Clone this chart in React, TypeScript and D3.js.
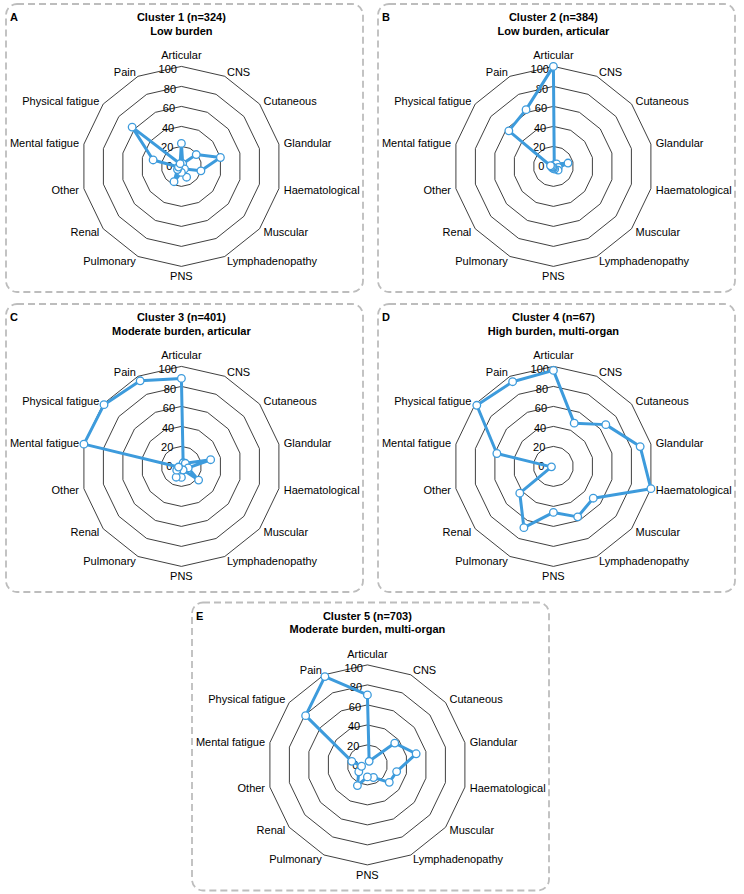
import React from "react";
import * as d3 from "d3";

const categories = [
  "Articular", "CNS", "Cutaneous", "Glandular", "Haematological", "Muscular",
  "Lymphadenopathy", "PNS", "Pulmonary", "Renal", "Other", "Mental fatigue",
  "Physical fatigue", "Pain",
];

const ringTicks = [0, 20, 40, 60, 80, 100];

const panelLetters = ["A", "B", "C", "D", "E"];
const panelTitles = ["Cluster 1 (n=324)", "Cluster 2 (n=384)", "Cluster 3 (n=401)", "Cluster 4 (n=67)", "Cluster 5 (n=703)"];
const panelSubtitles = ["Low burden", "Low burden, articular", "Moderate burden, articular", "High burden, multi-organ", "Moderate burden, multi-organ"];

const cluster1 = [23, 3, 19, 40, 20, 4, 12, 6, 17, 5, 3, 29, 63, 3];
const cluster2 = [100, 2, 4, 15, 5, 6, 3, 2, 2, 1, 2, 3, 57, 63];
const cluster3 = [88, 4, 5, 30, 7, 22, 4, 11, 12, 6, 3, 100, 99, 95];
const cluster4 = [96, 48, 67, 89, 100, 51, 56, 46, 68, 43, 2, 58, 98, 94];
const cluster5 = [70, 4, 35, 50, 30, 28, 14, 12, 23, 11, 6, 16, 79, 98];

const clusterValues = [cluster1, cluster2, cluster3, cluster4, cluster5];

// panel box origins (layout)
const panelOrigins: [number, number][] = [
  [6, 4],
  [378, 4],
  [6, 304],
  [378, 304],
  [192, 602.5],
];

const BOX_W = 357;
const BOX_H = 288;
const CX = 175.4;
const CY = 162.4;
const R = 100;
const LABEL_R = 105;
const BLUE = "#3d9bdc";
const FONT = "'Liberation Sans', Arial, Helvetica, sans-serif";

const n = categories.length;
const angle = d3.scaleLinear().domain([0, n]).range([0, 2 * Math.PI]);
const rScale = d3.scaleLinear().domain([0, 100]).range([0, R]);

function Panel({ idx }: { idx: number }) {
  const [ox, oy] = panelOrigins[idx];
  const values = clusterValues[idx];

  const ringLine = d3
    .lineRadial<number>()
    .angle((_, i) => angle(i))
    .radius((d) => rScale(d))
    .curve(d3.curveLinearClosed);

  const dataLine = d3
    .lineRadial<number>()
    .angle((_, i) => angle(i))
    .radius((d) => rScale(d))
    .curve(d3.curveLinearClosed);

  const pt = (v: number, i: number) => {
    const a = angle(i);
    const r = rScale(v);
    return [r * Math.sin(a), -r * Math.cos(a)];
  };

  return (
    <g transform={`translate(${ox},${oy})`}>
      <rect
        x={0}
        y={0}
        width={BOX_W}
        height={BOX_H}
        rx={11}
        ry={11}
        fill="none"
        stroke="#bdbdbd"
        strokeWidth={1.8}
        strokeDasharray="7 4"
      />
      <text x={CX - 171.5} y={CY - 149} fontFamily={FONT} fontSize={11} fontWeight="bold" dominantBaseline="central" fill="#000">
        {panelLetters[idx]}
      </text>
      <text x={CX} y={CY - 149} fontFamily={FONT} fontSize={11} fontWeight="bold" textAnchor="middle" dominantBaseline="central" fill="#000">
        {panelTitles[idx]}
      </text>
      <text x={CX} y={CY - 135.5} fontFamily={FONT} fontSize={11} fontWeight="bold" textAnchor="middle" dominantBaseline="central" fill="#000">
        {panelSubtitles[idx]}
      </text>
      <g transform={`translate(${CX},${CY})`}>
        {ringTicks.filter((t) => t > 0).map((t) => (
          <path
            key={t}
            d={ringLine(categories.map(() => t)) || ""}
            fill="none"
            stroke="#2a2a2a"
            strokeWidth={0.9}
          />
        ))}
        {ringTicks.map((t) => (
          <text
            key={"t" + t}
            x={-9 + 0.045 * rScale(t)}
            y={-rScale(t) * 0.97}
            fontFamily={FONT}
            fontSize={11}
            textAnchor="end"
            dominantBaseline="central"
            fill="#000"
          >
            {t}
          </text>
        ))}
        {categories.map((c, i) => {
          const a = angle(i);
          const s = Math.sin(a);
          const co = Math.cos(a);
          const x = LABEL_R * s;
          const y = -LABEL_R * co;
          let anchor = "middle";
          if (s > 0.1) anchor = "start";
          else if (s < -0.1) anchor = "end";
          let dy = 0;
          let baseline = "central";
          if (Math.abs(s) <= 0.1) {
            if (co > 0) {
              dy = -6;
            } else {
              dy = 5;
            }
          }
          return (
            <text
              key={c}
              x={x}
              y={y + dy}
              fontFamily={FONT}
              fontSize={11}
              textAnchor={anchor}
              dominantBaseline={baseline}
              fill="#000"
            >
              {c}
            </text>
          );
        })}
        <path d={dataLine(values) || ""} fill="none" stroke={BLUE} strokeWidth={3} strokeLinejoin="round" />
        {values.map((v, i) => {
          const [x, y] = pt(v, i);
          return <circle key={i} cx={x} cy={y} r={3.8} fill="#fff" stroke={BLUE} strokeWidth={1.3} />;
        })}
      </g>
    </g>
  );
}

export default function App() {
  return (
    <svg
      width={744}
      height={894}
      viewBox="0 0 744 894"
      style={{ position: "absolute", left: 0, top: 0, background: "#fff" }}
    >
      <rect x={0} y={0} width={744} height={894} fill="#fff" />
      {clusterValues.map((_, i) => (
        <Panel key={i} idx={i} />
      ))}
    </svg>
  );
}
